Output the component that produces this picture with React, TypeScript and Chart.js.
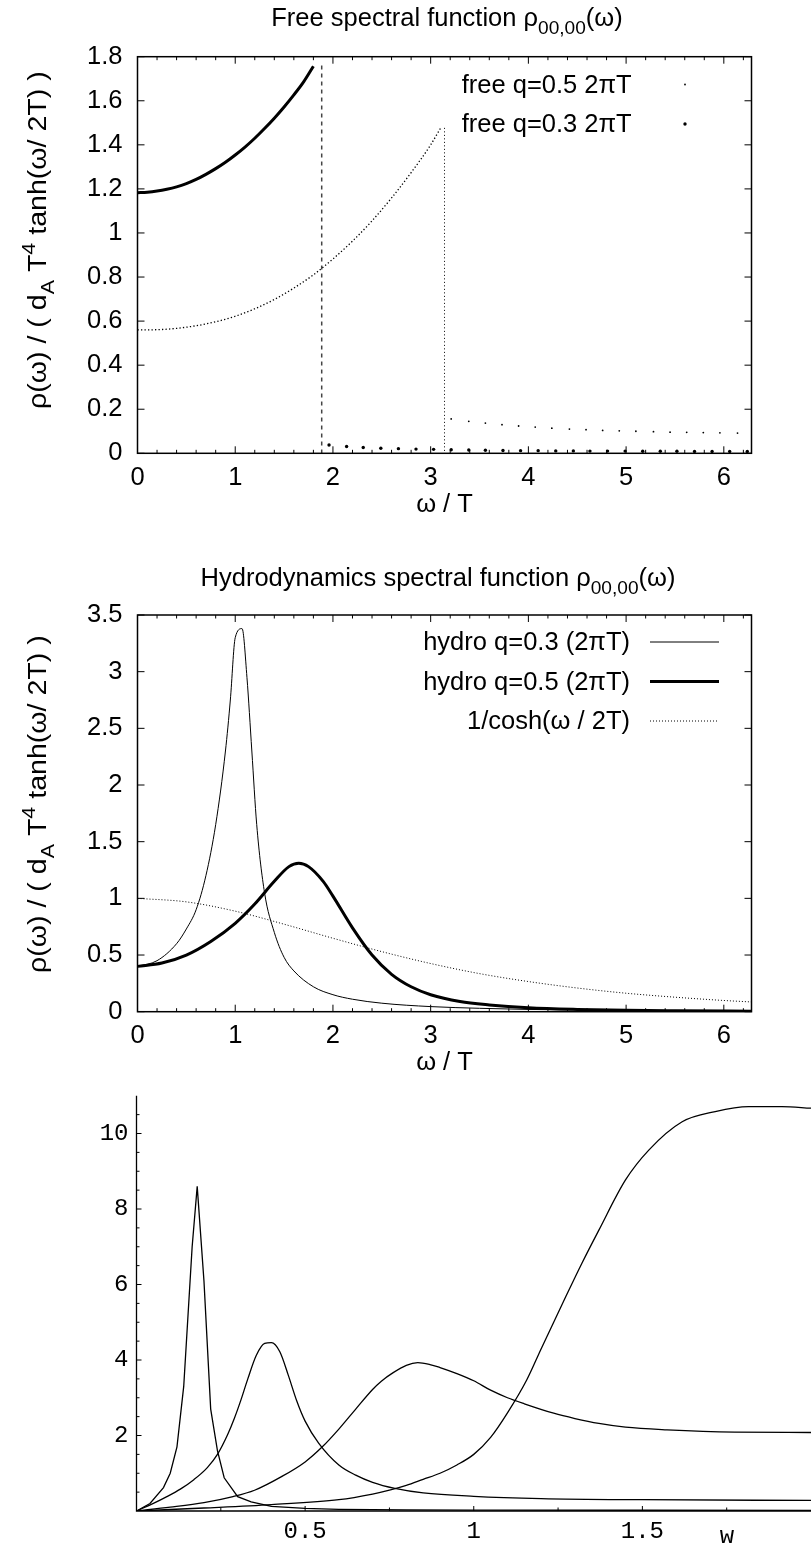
import React, { useEffect, useRef } from "react";
import { Chart, registerables } from "chart.js";

Chart.register(...registerables);

const W = 811;
const H = 1547;
const SANS = '"Liberation Sans", Arial, Helvetica, sans-serif';
const MONO = '"Liberation Mono", "Courier New", monospace';
const TXT = 25.5;

// ---------------- Panel 1: Free spectral function ----------------
const freeQ03X = [0, 0.1, 0.2, 0.3, 0.4, 0.5, 0.6, 0.7, 0.8, 0.9, 1.0, 1.1, 1.2, 1.3, 1.4, 1.5, 1.6, 1.7, 1.8];
const freeQ03Y = [1.183, 1.185, 1.19, 1.198, 1.209, 1.224, 1.243, 1.266, 1.292, 1.321, 1.354, 1.39, 1.43, 1.474, 1.521, 1.572, 1.627, 1.686, 1.757];
const freeQ03TailX = [1.96, 2.14, 2.31, 2.49, 2.67, 2.85, 3.03, 3.21, 3.39, 3.56, 3.74, 3.92, 4.1, 4.28, 4.46, 4.63, 4.81, 4.99, 5.17, 5.35, 5.52, 5.7, 5.88, 6.06, 6.24];
const freeQ03TailY = [0.038, 0.031, 0.026, 0.023, 0.021, 0.019, 0.018, 0.016, 0.015, 0.014, 0.013, 0.012, 0.012, 0.011, 0.011, 0.01, 0.01, 0.01, 0.009, 0.009, 0.009, 0.008, 0.008, 0.008, 0.008];
const freeQ05X = [0, 0.2, 0.4, 0.6, 0.8, 1.0, 1.2, 1.4, 1.6, 1.8, 2.0, 2.2, 2.4, 2.6, 2.8, 3.0, 3.1];
const freeQ05Y = [0.56, 0.561, 0.567, 0.579, 0.597, 0.622, 0.656, 0.698, 0.75, 0.81, 0.882, 0.963, 1.055, 1.159, 1.274, 1.4, 1.475];
const freeQ05TailX = [3.21, 3.39, 3.56, 3.73, 3.9, 4.07, 4.24, 4.42, 4.59, 4.76, 4.93, 5.1, 5.28, 5.45, 5.62, 5.79, 5.96, 6.14];
const freeQ05TailY = [0.156, 0.145, 0.137, 0.13, 0.124, 0.119, 0.114, 0.11, 0.107, 0.104, 0.102, 0.1, 0.098, 0.096, 0.095, 0.094, 0.093, 0.092];
const cutQ03X = [1.885, 1.885];
const cutQ03Y = [1.76, 0];
const cutQ05X = [3.1416, 3.1416];
const cutQ05Y = [1.477, 0];
const freeXTicks = [0, 1, 2, 3, 4, 5, 6];
const freeYTicks = [0, 0.2, 0.4, 0.6, 0.8, 1, 1.2, 1.4, 1.6, 1.8];

// ---------------- Panel 2: Hydrodynamics spectral function ----------------
const hydroQ03X = [0, 0.2, 0.4, 0.5, 0.6, 0.7, 0.8, 0.9, 0.95, 1.0, 1.07, 1.12, 1.17, 1.22, 1.3, 1.4, 1.5, 1.6, 1.8, 2.0, 2.2, 2.5, 3.0, 3.5, 4.0, 5.0, 6.2832];
const hydroQ03Y = [0.4, 0.45, 0.6, 0.73, 0.9, 1.2, 1.65, 2.3, 2.75, 3.3, 3.38, 2.95, 2.3, 1.65, 1.05, 0.7, 0.48, 0.36, 0.22, 0.15, 0.11, 0.075, 0.045, 0.03, 0.02, 0.012, 0.006];
const hydroQ05X = [0, 0.25, 0.5, 0.75, 1.0, 1.2, 1.4, 1.55, 1.65, 1.75, 1.9, 2.0, 2.2, 2.4, 2.6, 2.8, 3.0, 3.3, 3.6, 4.0, 4.5, 5.0, 5.5, 6.2832];
const hydroQ05Y = [0.4, 0.43, 0.5, 0.62, 0.78, 0.95, 1.15, 1.28, 1.31, 1.28, 1.15, 1.02, 0.74, 0.5, 0.33, 0.22, 0.15, 0.09, 0.06, 0.035, 0.02, 0.012, 0.008, 0.004];
const coshX = [0, 0.5, 1, 1.5, 2, 2.5, 3, 3.5, 4, 4.5, 5, 5.5, 6, 6.2832];
const coshY = [1, 0.969, 0.887, 0.772, 0.648, 0.53, 0.425, 0.336, 0.266, 0.209, 0.163, 0.128, 0.099, 0.086];
const hydroXTicks = [0, 1, 2, 3, 4, 5, 6];
const hydroYTicks = [0, 0.5, 1, 1.5, 2, 2.5, 3, 3.5];

// ---------------- Panel 3: four curves vs w ----------------
const curveAX = [0, 0.04, 0.08, 0.1, 0.12, 0.13, 0.14, 0.165, 0.18, 0.2, 0.22, 0.24, 0.26, 0.3, 0.34, 0.4, 0.5, 0.6, 0.8, 1.0, 1.5, 2.0];
const curveAY = [0, 0.2, 0.62, 1.0, 1.7, 2.5, 3.3, 7.0, 8.6, 6.1, 2.7, 1.6, 0.88, 0.38, 0.24, 0.12, 0.07, 0.045, 0.03, 0.025, 0.02, 0.018];
const curveBX = [0, 0.05, 0.09, 0.13, 0.17, 0.21, 0.24, 0.27, 0.29, 0.31, 0.33, 0.355, 0.38, 0.4, 0.425, 0.45, 0.475, 0.5, 0.54, 0.6, 0.65, 0.7, 0.766, 0.85, 1.0, 1.2, 1.5, 2.0];
const curveBY = [0, 0.2, 0.38, 0.58, 0.83, 1.15, 1.5, 2.02, 2.45, 2.95, 3.5, 4.12, 4.44, 4.46, 4.22, 3.6, 2.92, 2.38, 1.8, 1.22, 0.95, 0.76, 0.6, 0.48, 0.39, 0.33, 0.3, 0.28];
const curveCX = [0, 0.1, 0.2, 0.286, 0.35, 0.43, 0.5, 0.551, 0.6, 0.65, 0.7, 0.726, 0.76, 0.8, 0.834, 0.87, 0.9, 0.95, 1.0, 1.05, 1.1, 1.15, 1.237, 1.3, 1.371, 1.45, 1.573, 1.774, 2.0];
const curveCY = [0, 0.1, 0.22, 0.38, 0.55, 0.91, 1.3, 1.7, 2.17, 2.7, 3.22, 3.44, 3.66, 3.86, 3.93, 3.88, 3.8, 3.64, 3.45, 3.2, 3.0, 2.84, 2.59, 2.45, 2.32, 2.22, 2.15, 2.09, 2.08];
const curveDX = [0, 0.2, 0.4, 0.6, 0.7, 0.753, 0.8, 0.85, 0.9, 0.95, 1.0, 1.05, 1.1, 1.157, 1.2, 1.273, 1.32, 1.371, 1.45, 1.519, 1.618, 1.716, 1.815, 1.914, 2.0];
const curveDY = [0, 0.08, 0.17, 0.3, 0.45, 0.56, 0.68, 0.84, 1.0, 1.22, 1.5, 1.95, 2.6, 3.47, 4.3, 5.68, 6.55, 7.44, 8.77, 9.56, 10.31, 10.58, 10.71, 10.71, 10.67];
const mmaXTicks = [0.5, 1, 1.5];
const mmaYTicks = [2, 4, 6, 8, 10];

// ---------------- helpers ----------------
type Seg = { t: string; m?: "sub" | "sup" };
const pts = (xs: number[], ys: number[]) => xs.map((x, i) => ({ x, y: ys[i] }));
const fmt = (v: any) => String(Math.round(Number(v) * 100) / 100);

function drawRich(ctx: CanvasRenderingContext2D, segs: Seg[], x: number, y: number, size: number, family: string, align: "left" | "center" | "right") {
  const fs = (s: Seg) => (s.m ? size * 0.75 : size);
  let w = 0;
  for (const s of segs) {
    ctx.font = `${fs(s)}px ${family}`;
    w += ctx.measureText(s.t).width;
  }
  let cx = align === "center" ? x - w / 2 : align === "right" ? x - w : x;
  ctx.textAlign = "left";
  ctx.textBaseline = "alphabetic";
  for (const s of segs) {
    ctx.font = `${fs(s)}px ${family}`;
    const dy = s.m === "sub" ? size * 0.32 : s.m === "sup" ? -size * 0.45 : 0;
    ctx.fillText(s.t, cx, y + dy);
    cx += ctx.measureText(s.t).width;
  }
}

type LegendItem = { label: string; y: number; kind: "point" | "line"; radius?: number; width?: number; dash?: number[] };

type GnuSpec = {
  area: { left: number; top: number; right: number; bottom: number };
  xMax: number;
  yMax: number;
  xTicks: number[];
  yTicks: number[];
  xPad: number;
  title: Seg[];
  titleX: number;
  titleY: number;
  ylabelX: number;
  ylabelStart: number;
  xlabelX: number;
  xlabelY: number;
  legendRight: number;
  sampleX: number;
  sampleW: number;
  legend: LegendItem[];
  datasets: any[];
};

const yLabelSegs: Seg[] = [
  { t: "ρ(ω) / ( d" },
  { t: "A", m: "sub" },
  { t: " T" },
  { t: "4", m: "sup" },
  { t: " tanh(ω/ 2T) )" },
];

function gnuDecor(spec: GnuSpec) {
  return {
    id: "gnuDecor",
    afterDraw(chart: any) {
      const ctx: CanvasRenderingContext2D = chart.ctx;
      const a = chart.chartArea;
      const xs = chart.scales.x;
      const ys = chart.scales.y;
      ctx.save();
      ctx.strokeStyle = "#000";
      ctx.fillStyle = "#000";
      ctx.setLineDash([]);
      ctx.lineWidth = 1;
      ctx.beginPath();
      for (let i = 0; i * 0.2 <= spec.xMax + 1e-9; i++) {
        const p = xs.getPixelForValue(i * 0.2);
        const L = i % 5 === 0 ? 7 : 3.5;
        ctx.moveTo(p, a.bottom);
        ctx.lineTo(p, a.bottom - L);
        ctx.moveTo(p, a.top);
        ctx.lineTo(p, a.top + L);
      }
      for (const v of spec.yTicks) {
        const p = ys.getPixelForValue(v);
        ctx.moveTo(a.left, p);
        ctx.lineTo(a.left + 7, p);
        ctx.moveTo(a.right, p);
        ctx.lineTo(a.right - 7, p);
      }
      ctx.stroke();
      ctx.lineWidth = 1.5;
      ctx.strokeRect(a.left, a.top, a.right - a.left, a.bottom - a.top);

      drawRich(ctx, spec.title, spec.titleX, spec.titleY, TXT, SANS, "center");
      drawRich(ctx, [{ t: "ω / T" }], spec.xlabelX, spec.xlabelY, TXT, SANS, "center");

      ctx.save();
      ctx.translate(spec.ylabelX, spec.ylabelStart);
      ctx.rotate(-Math.PI / 2);
      ctx.scale(1.12, 1);
      drawRich(ctx, yLabelSegs, 0, 0, TXT, SANS, "left");
      ctx.restore();

      for (const it of spec.legend) {
        drawRich(ctx, [{ t: it.label }], spec.legendRight, it.y, TXT, SANS, "right");
        const sy = it.y - 8;
        if (it.kind === "point") {
          ctx.beginPath();
          ctx.arc(spec.sampleX, sy, it.radius || 1, 0, Math.PI * 2);
          ctx.fill();
        } else {
          ctx.save();
          ctx.lineWidth = it.width || 1;
          ctx.setLineDash(it.dash || []);
          ctx.beginPath();
          ctx.moveTo(spec.sampleX, sy);
          ctx.lineTo(spec.sampleX + spec.sampleW, sy);
          ctx.stroke();
          ctx.restore();
        }
      }
      ctx.restore();
    },
  };
}

function gnuChart(canvas: HTMLCanvasElement, spec: GnuSpec) {
  const a = spec.area;
  const tickFont = { family: SANS, size: TXT };
  return new Chart(canvas, {
    type: "scatter",
    data: { datasets: spec.datasets },
    options: {
      responsive: false,
      animation: false,
      devicePixelRatio: 1,
      events: [],
      layout: { padding: { left: 0, top: a.top, right: W - a.right, bottom: 0 } },
      plugins: { legend: { display: false }, title: { display: false }, tooltip: { enabled: false } },
      scales: {
        x: {
          type: "linear",
          min: 0,
          max: spec.xMax,
          grid: { display: false, drawTicks: false },
          border: { display: false },
          ticks: { autoSkip: false, maxRotation: 0, color: "#000", font: tickFont, padding: spec.xPad, callback: fmt },
          afterBuildTicks: (s: any) => {
            s.ticks = spec.xTicks.map((v) => ({ value: v }));
          },
          afterFit: (s: any) => {
            s.height = H - a.bottom;
          },
        },
        y: {
          type: "linear",
          min: 0,
          max: spec.yMax,
          grid: { display: false, drawTicks: false },
          border: { display: false },
          ticks: { autoSkip: false, color: "#000", font: tickFont, padding: 15, callback: fmt },
          afterBuildTicks: (s: any) => {
            s.ticks = spec.yTicks.map((v) => ({ value: v }));
          },
          afterFit: (s: any) => {
            s.width = a.left;
          },
        },
      },
    } as any,
    plugins: [gnuDecor(spec)],
  });
}

const lineDs = (data: any[], width: number, dash: number[] = [], color = "#000", smooth = true) => ({
  data,
  showLine: true,
  borderColor: color,
  borderWidth: width,
  borderDash: dash,
  pointRadius: 0,
  fill: false,
  cubicInterpolationMode: smooth ? "monotone" : "default",
  tension: 0,
});
const pointDs = (data: any[], r: number) => ({
  data,
  showLine: false,
  pointRadius: r,
  pointBorderWidth: 0,
  pointBackgroundColor: "#000",
  borderColor: "#000",
});

function makePanel1(canvas: HTMLCanvasElement) {
  return gnuChart(canvas, {
    area: { left: 137.5, top: 56.7, right: 751.5, bottom: 453.3 },
    xMax: 6.2832,
    yMax: 1.8,
    xTicks: freeXTicks,
    yTicks: freeYTicks,
    xPad: 9,
    title: [{ t: "Free spectral function " }, { t: "ρ" }, { t: "00,00", m: "sub" }, { t: "(ω)" }],
    titleX: 447,
    titleY: 25.5,
    ylabelX: 46,
    ylabelStart: 409,
    xlabelX: 444.5,
    xlabelY: 512,
    legendRight: 631.7,
    sampleX: 685,
    sampleW: 0,
    legend: [
      { label: "free q=0.5 2πT", y: 92.5, kind: "point", radius: 0.9 },
      { label: "free q=0.3 2πT", y: 132, kind: "point", radius: 1.7 },
    ],
    datasets: [
      lineDs(pts(freeQ05X, freeQ05Y), 1.3, [1.3, 2.2]),
      pointDs(pts(freeQ05TailX, freeQ05TailY), 0.9),
      lineDs(pts(freeQ03X, freeQ03Y), 3),
      pointDs(pts(freeQ03TailX, freeQ03TailY), 1.7),
      lineDs(pts(cutQ03X, cutQ03Y), 1.5, [4, 4], "#444", false),
      lineDs(pts(cutQ05X, cutQ05Y), 1, [1, 2.5], "#000", false),
    ],
  });
}

function makePanel2(canvas: HTMLCanvasElement) {
  return gnuChart(canvas, {
    area: { left: 137.5, top: 615, right: 751.5, bottom: 1011.7 },
    xMax: 6.2832,
    yMax: 3.5,
    xTicks: hydroXTicks,
    yTicks: hydroYTicks,
    xPad: 9,
    title: [{ t: "Hydrodynamics spectral function " }, { t: "ρ" }, { t: "00,00", m: "sub" }, { t: "(ω)" }],
    titleX: 438,
    titleY: 586,
    ylabelX: 46,
    ylabelStart: 973,
    xlabelX: 444.5,
    xlabelY: 1070,
    legendRight: 630,
    sampleX: 650,
    sampleW: 69,
    legend: [
      { label: "hydro q=0.3 (2πT)", y: 650, kind: "line", width: 1 },
      { label: "hydro q=0.5 (2πT)", y: 689.5, kind: "line", width: 3 },
      { label: "1/cosh(ω / 2T)", y: 729, kind: "line", width: 1, dash: [1, 2] },
    ],
    datasets: [
      lineDs(pts(hydroQ03X, hydroQ03Y), 1),
      lineDs(pts(hydroQ05X, hydroQ05Y), 3),
      lineDs(pts(coshX, coshY), 1, [1, 2]),
    ],
  });
}

const mmaDecor = {
  id: "mmaDecor",
  afterDraw(chart: any) {
    const ctx: CanvasRenderingContext2D = chart.ctx;
    const a = chart.chartArea;
    const xs = chart.scales.x;
    const ys = chart.scales.y;
    ctx.save();
    ctx.strokeStyle = "#000";
    ctx.fillStyle = "#000";
    ctx.lineWidth = 1.3;
    ctx.beginPath();
    ctx.moveTo(a.left, a.top);
    ctx.lineTo(a.left, a.bottom);
    ctx.lineTo(a.right, a.bottom);
    ctx.stroke();
    ctx.lineWidth = 1;
    ctx.beginPath();
    for (let i = 1; i * 0.5 <= 10.5 + 1e-9; i++) {
      const p = ys.getPixelForValue(i * 0.5);
      const L = i % 4 === 0 ? 5 : 3;
      ctx.moveTo(a.left, p);
      ctx.lineTo(a.left + L, p);
    }
    for (let i = 1; i * 0.25 <= 1.75 + 1e-9; i++) {
      const p = xs.getPixelForValue(i * 0.25);
      const L = i % 2 === 0 ? 5 : 3.5;
      ctx.moveTo(p, a.bottom);
      ctx.lineTo(p, a.bottom - L);
    }
    ctx.stroke();
    ctx.font = `24px ${MONO}`;
    ctx.textAlign = "center";
    ctx.textBaseline = "alphabetic";
    ctx.fillText("w", 727, 1543);
    ctx.restore();
  },
};

function makePanel3(canvas: HTMLCanvasElement) {
  const area = { left: 136.5, top: 1095.75, right: 811, bottom: 1511 };
  const tickFont = { family: MONO, size: 24 };
  const curve = (xs: number[], ys: number[], smooth: boolean) => lineDs(pts(xs, ys), 1.3, [], "#000", smooth);
  return new Chart(canvas, {
    type: "scatter",
    data: {
      datasets: [
        curve(curveAX, curveAY, false),
        curve(curveBX, curveBY, true),
        curve(curveCX, curveCY, true),
        curve(curveDX, curveDY, true),
      ],
    },
    options: {
      responsive: false,
      animation: false,
      devicePixelRatio: 1,
      events: [],
      layout: { padding: { left: 0, top: area.top, right: W - area.right, bottom: 0 } },
      plugins: { legend: { display: false }, title: { display: false }, tooltip: { enabled: false } },
      scales: {
        x: {
          type: "linear",
          min: 0,
          max: 2,
          grid: { display: false, drawTicks: false },
          border: { display: false },
          ticks: { autoSkip: false, maxRotation: 0, color: "#000", font: tickFont, padding: 6, callback: fmt },
          afterBuildTicks: (s: any) => {
            s.ticks = mmaXTicks.map((v) => ({ value: v }));
          },
          afterFit: (s: any) => {
            s.height = H - area.bottom;
          },
        },
        y: {
          type: "linear",
          min: 0,
          max: 11,
          grid: { display: false, drawTicks: false },
          border: { display: false },
          ticks: { autoSkip: false, color: "#000", font: tickFont, padding: 8, callback: fmt },
          afterBuildTicks: (s: any) => {
            s.ticks = mmaYTicks.map((v) => ({ value: v }));
          },
          afterFit: (s: any) => {
            s.width = area.left;
          },
        },
      },
    } as any,
    plugins: [mmaDecor],
  });
}

function ChartLayer({ make }: { make: (c: HTMLCanvasElement) => Chart }) {
  const ref = useRef<HTMLCanvasElement>(null);
  useEffect(() => {
    const ch = make(ref.current as HTMLCanvasElement);
    return () => ch.destroy();
  }, []);
  return (
    <canvas
      ref={ref}
      width={W}
      height={H}
      style={{ position: "absolute", left: 0, top: 0, width: W, height: H, display: "block" }}
    />
  );
}

export default function App() {
  return (
    <div style={{ position: "absolute", left: 0, top: 0, width: W, height: H, background: "#fff", overflow: "hidden" }}>
      <ChartLayer make={makePanel1} />
      <ChartLayer make={makePanel2} />
      <ChartLayer make={makePanel3} />
    </div>
  );
}
